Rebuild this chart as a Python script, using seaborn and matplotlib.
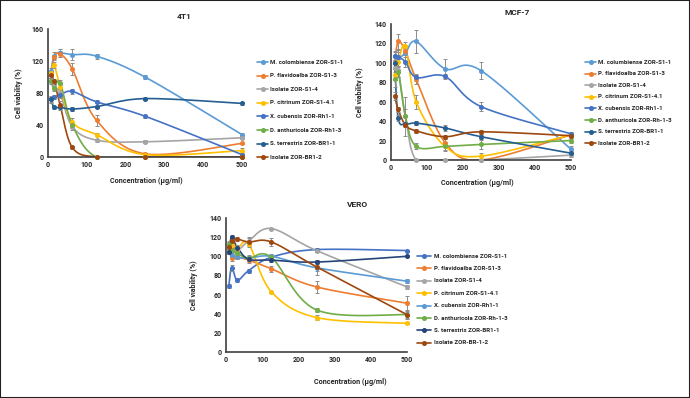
import numpy as np
import matplotlib.pyplot as plt
import seaborn as sns
from matplotlib.lines import Line2D

# concentrations (ug/ml)
conc = [7.8, 15.6, 31.25, 62.5, 125, 250, 500]
conc_mcf = [10, 20, 40, 70, 150, 250, 500]

names_4t1 = ['M. colombiense ZOR-S1-1', 'P. flavidoalba ZOR-S1-3', 'Isolate ZOR-S1-4',
             'P. citrinum ZOR-S1-4.1', 'X. cubensis ZOR-Rh1-1', 'D. anthuricola ZOR-Rh1-3',
             'S. terrestris ZOR-BR1-1', 'Isolate ZOR-BR1-2']
names_mcf = ['M. columbiense ZOR-S1-1', 'P. flavidoalba ZOR-S1-3', 'Isolate ZOR-S1-4',
             'P. citrinum ZOR-S1-4.1', 'X. cubensis ZOR-Rh1-1', 'D. anthuricola ZOR-Rh-1-3',
             'S. terrestris ZOR-BR1-1', 'Isolate ZOR-BR1-2']
names_vero = ['M. colombiense ZOR-S1-1', 'P. flavidoalba ZOR-S1-3', 'Isolate ZOR-S1-4',
              'P. citrinum ZOR-S1-4.1', 'X. cubensis ZOR-Rh1-1', 'D. anthuricola ZOR-Rh-1-3',
              'S. terrestris ZOR-BR1-1', 'Isolate ZOR-BR-1-2']

# 4T1 cell viability (%)
t1_col = [107, 126, 130, 128, 126, 100, 28]
t1_fla = [102, 125, 129, 110, 46, 4, 17]
t1_iso = [95, 88, 80, 38, 21, 19, 24]
t1_cit = [105, 115, 88, 44, 28, 3, 8]
t1_xcu = [72, 75, 78, 82, 69, 51, 3]
t1_dan = [95, 86, 93, 40, 0, 0, 0]
t1_ste = [72, 62, 62, 60, 63, 73, 67]
t1_br = [102, 95, 65, 12, 0, 0, 0]
t1_err = [[4, 5, 5, 7, 3, 2, 2], [3, 3, 4, 7, 7, 1, 1], [3, 4, 6, 4, 2, 2, 2],
          [3, 4, 3, 5, 2, 1, 3], [4, 3, 3, 3, 2, 2, 1], [4, 3, 3, 4, 0, 0, 0],
          [3, 2, 3, 2, 2, 2, 2], [3, 3, 5, 2, 0, 0, 0]]

# MCF-7 cell viability (%)
m_col = [107, 105, 110, 122, 94, 92, 11]
m_fla = [100, 122, 112, 83, 18, 0, 26]
m_iso = [95, 93, 45, 0, 0, 0, 5]
m_cit = [88, 101, 117, 60, 14, 4, 26]
m_xcu = [107, 106, 101, 85, 86, 55, 27]
m_dan = [83, 91, 45, 14, 14, 16, 20]
m_ste = [100, 43, 37, 38, 33, 24, 7]
m_br = [66, 52, 36, 30, 24, 29, 25]
m_err = [[5, 8, 8, 12, 10, 9, 3], [6, 8, 4, 5, 4, 1, 2], [8, 8, 20, 1, 1, 1, 2],
         [6, 5, 4, 7, 4, 3, 2], [4, 5, 5, 4, 3, 5, 2], [8, 6, 8, 3, 5, 5, 2],
         [6, 3, 2, 2, 3, 2, 2], [4, 3, 2, 2, 2, 2, 2]]

# VERO cell viability (%)
v_col = [69, 88, 75, 85, 99, 107, 106]
v_fla = [110, 98, 99, 96, 87, 68, 51]
v_iso = [108, 112, 106, 116, 129, 106, 68]
v_cit = [112, 112, 108, 113, 63, 36, 30]
v_xcu = [104, 101, 99, 98, 100, 88, 74]
v_dan = [113, 107, 103, 98, 99, 44, 39]
v_ste = [105, 120, 109, 97, 96, 94, 100]
v_br = [110, 116, 118, 115, 115, 89, 39]
v_err = [[2, 3, 2, 2, 2, 2, 1], [3, 3, 2, 3, 3, 6, 7], [3, 3, 2, 4, 1, 2, 2],
         [3, 3, 3, 3, 1, 3, 1], [2, 2, 2, 2, 2, 8, 2], [3, 3, 3, 3, 2, 2, 3],
         [3, 2, 3, 3, 2, 2, 1], [3, 3, 2, 4, 4, 4, 4]]

colors_a = ['#5B9BD5', '#ED7D31', '#A5A5A5', '#FFC000', '#4472C4', '#70AD47', '#255E91', '#9E480E']
colors_v = ['#4472C4', '#ED7D31', '#A5A5A5', '#FFC000', '#5B9BD5', '#70AD47', '#264478', '#9E480E']

sns.set_theme(style='white')
plt.rcParams['font.family'] = ['Roboto', 'DejaVu Sans']

W, H = 690, 398


def smooth(x, y, n=24):
    # excel-like smoothed line (bezier through the points)
    p = np.column_stack([x, y]).astype(float)
    p = np.vstack([p[0], p, p[-1]])
    t = np.linspace(0, 1, n)[:, None]
    out = []
    for i in range(1, len(p) - 2):
        p0, p1, p2, p3 = p[i - 1], p[i], p[i + 1], p[i + 2]
        c1 = p1 + (p2 - p0) / 6
        c2 = p2 - (p3 - p1) / 6
        seg = (1 - t) ** 3 * p1 + 3 * (1 - t) ** 2 * t * c1 + 3 * (1 - t) * t ** 2 * c2 + t ** 3 * p2
        out.append(seg if i == 1 else seg[1:])
    return np.vstack(out)


def legend_px(names, colors, x0, x1, xt, y0, dy):
    # excel-style legend placed in pixel positions
    for i, (nm, c) in enumerate(zip(names, colors)):
        yy = 1 - (y0 + i * dy) / H
        fig.add_artist(Line2D([x0 / W, x1 / W], [yy, yy], color=c, lw=1.2,
                              transform=fig.transFigure))
        fig.add_artist(Line2D([(x0 + x1) / 2 / W], [yy], color=c, marker='o', ms=2.6,
                              transform=fig.transFigure))
        fig.text(xt / W, yy, nm, ha='left', va='center', fontsize=4.4, fontweight='bold')


def panel(rect, x, series, errs, colors, title, ymax, ystep, title_pos, ylab_x, xlab_pos):
    ax = fig.add_axes(rect)
    for y, e, c in zip(series, errs, colors):
        s = smooth(x, y)
        sns.lineplot(x=s[:, 0], y=s[:, 1], sort=False, estimator=None, color=c,
                     lw=1.2, ax=ax, legend=False)
        ax.errorbar(x, y, yerr=e, fmt='o', ms=2.6, color=c, ecolor='#8C8C8C',
                    elinewidth=0.7, capsize=1.6, capthick=0.7, clip_on=False, zorder=3)
    ax.set_xlim(0, 500)
    ax.set_ylim(0, ymax)
    ax.set_xticks(range(0, 501, 100))
    ax.set_yticks(range(0, ymax + 1, ystep))
    ax.tick_params(labelsize=5, length=0, pad=3)
    for lab in ax.get_xticklabels() + ax.get_yticklabels():
        lab.set_fontweight('bold')
    for sp in ['top', 'right']:
        ax.spines[sp].set_visible(False)
    for sp in ['left', 'bottom']:
        ax.spines[sp].set_color('#404040')
        ax.spines[sp].set_linewidth(1.2)
    ax.set_ylabel('Cell viability (%)', fontsize=5, fontweight='bold')
    ax.yaxis.set_label_coords(ylab_x, 0.5)
    ax.set_xlabel('Concentration (µg/ml)', fontsize=5.2, fontweight='bold')
    ax.xaxis.set_label_coords(*xlab_pos)
    ax.text(title_pos[0], title_pos[1], title, transform=ax.transAxes, ha='center',
            va='center', fontsize=6, fontweight='bold')
    return ax


fig = plt.figure(figsize=(6.9, 3.98), dpi=100)

panel([48 / W, 1 - 157 / H, 194 / W, 128 / H], conc,
      [t1_col, t1_fla, t1_iso, t1_cit, t1_xcu, t1_dan, t1_ste, t1_br], t1_err,
      colors_a, '4T1', 160, 40, (0.70, 1.10), -0.13, (0.505, -0.155))
legend_px(names_4t1, colors_a, 257, 268, 270, 62, 13.6)

panel([391 / W, 1 - 160 / H, 180 / W, 136 / H], conc_mcf,
      [m_col, m_fla, m_iso, m_cit, m_xcu, m_dan, m_ste, m_br], m_err,
      colors_a, 'MCF-7', 140, 20, (0.70, 1.088), -0.15, (0.48, -0.14))
legend_px(names_mcf, colors_a, 585, 596, 598, 62, 11.6)

panel([226 / W, 1 - 352 / H, 181 / W, 134 / H], conc,
      [v_col, v_fla, v_iso, v_cit, v_xcu, v_dan, v_ste, v_br], v_err,
      colors_v, 'VERO', 140, 20, (0.724, 1.104), -0.155, (0.685, -0.194))
legend_px(names_vero, colors_v, 417, 431, 434, 256, 12.4)

fig.patches.append(plt.Rectangle((0, 0), 1, 1, transform=fig.transFigure, fill=False,
                                 ec='#231F20', lw=1.5))

fig.savefig('out.png', dpi=100)
